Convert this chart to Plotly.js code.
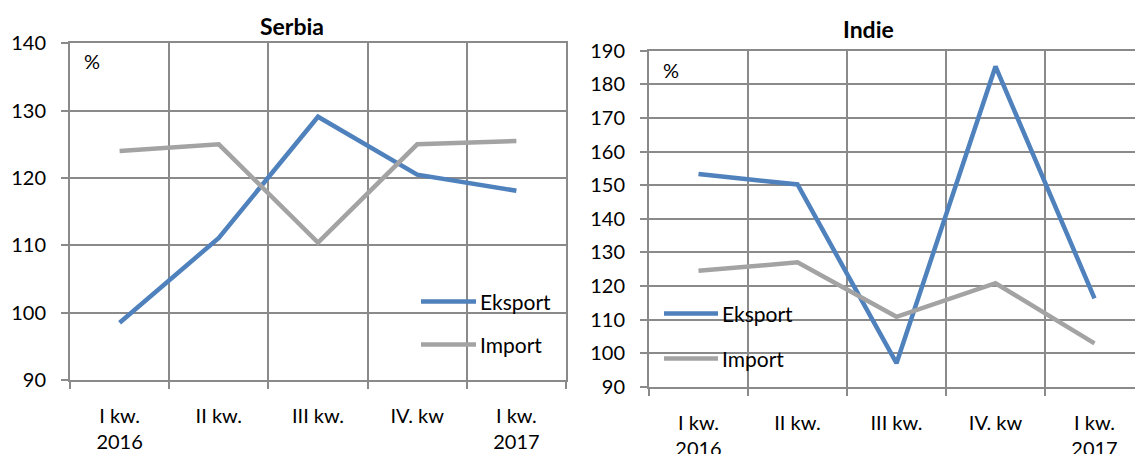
<!DOCTYPE html>
<html>
<head>
<meta charset="utf-8">
<script src="https://cdn.plot.ly/plotly-3.0.1.min.js"></script>
<style>
  html, body { margin: 0; padding: 0; overflow: hidden; background: #fff; }
  #chart { width: 1150px; height: 454px; }
</style>
</head>
<body>
<div id="chart"></div>
<script>
// Quarterly dynamics of trade (%), Serbia and India
const quarters = ["I kw.<br>2016", "II kw.", "III kw.", "IV. kw", "I kw.<br>2017"];
const seriesNames = ["Eksport", "Import"];
const panelTitles = ["Serbia", "Indie"];
const unitLabel = "%";

const serbiaExport = [98.5, 111.1, 129.1, 120.5, 118.1];
const serbiaImport = [124.0, 125.0, 110.4, 125.0, 125.5];
const indiaExport = [153.3, 150.2, 97.0, 185.3, 116.3];
const indiaImport = [124.5, 127.0, 110.8, 120.8, 102.9];

const serbiaRange = [90, 140];
const indiaRange = [90, 190];

const W = 1150, H = 454;
const px = x => x / W;
const py = y => 1 - y / H;

const BLUE = "#4f81bd";
const GREY = "#a3a3a3";
const GRID = "#8a8a8a";
const FONT = "Lato, 'Open Sans', sans-serif";

function line(x, y, name, color, xa, ya) {
  return {
    type: "scatter", mode: "lines", x: x, y: y, name: name,
    xaxis: xa, yaxis: ya, showlegend: false, hoverinfo: "skip",
    line: { color: color, width: 4.5 }
  };
}

const data = [
  line(quarters, serbiaExport, seriesNames[0], BLUE, "x", "y"),
  line(quarters, serbiaImport, seriesNames[1], GREY, "x", "y"),
  line(quarters, indiaExport, seriesNames[0], BLUE, "x2", "y2"),
  line(quarters, indiaImport, seriesNames[1], GREY, "x2", "y2")
];

function xAxis(domain, anchor) {
  return {
    domain: domain, anchor: anchor, type: "category",
    range: [-0.5, 4.5], fixedrange: true,
    tickson: "boundaries", ticks: "outside", ticklen: 7, tickwidth: 2, tickcolor: GRID,
    showgrid: true, gridcolor: GRID, gridwidth: 2,
    showline: true, linecolor: GRID, linewidth: 2, mirror: true,
    tickfont: { family: FONT, size: 20, color: "#000" },
    ticklabelstandoff: 17, automargin: false
  };
}
function yAxis(domain, anchor, range) {
  return {
    domain: domain, anchor: anchor, range: range, dtick: 10, fixedrange: true,
    ticks: "outside", ticklen: 7, tickwidth: 2, tickcolor: GRID,
    showgrid: true, gridcolor: GRID, gridwidth: 2, zeroline: false,
    showline: true, linecolor: GRID, linewidth: 2, mirror: true,
    tickfont: { family: FONT, size: 20, color: "#000" },
    ticklabelstandoff: 11, automargin: false
  };
}

// Hand-drawn legends: a thick line sample followed by the series name
function legendItems(x0, x1, yTop, yBottom) {
  const shapes = [], notes = [];
  [[yTop, BLUE, seriesNames[0]], [yBottom, GREY, seriesNames[1]]].forEach(([y, c, t]) => {
    shapes.push({ type: "line", xref: "paper", yref: "paper",
      x0: px(x0), x1: px(x1), y0: py(y), y1: py(y),
      line: { color: c, width: 4.5 } });
    notes.push({ xref: "paper", yref: "paper", x: px(x1 + 2), y: py(y),
      xanchor: "left", yanchor: "middle", showarrow: false, text: t,
      font: { family: FONT, size: 21, color: "#000" } });
  });
  return { shapes, notes };
}

const legS = legendItems(421, 476, 301.5, 344.5);
const legI = legendItems(664, 718, 313.5, 358.5);

const annotations = [
  { xref: "paper", yref: "paper", x: px(292), y: py(26), xanchor: "center", yanchor: "middle",
    showarrow: false, text: "<b>" + panelTitles[0] + "</b>", font: { family: FONT, size: 23, color: "#000" } },
  { xref: "paper", yref: "paper", x: px(868), y: py(29), xanchor: "center", yanchor: "middle",
    showarrow: false, text: "<b>" + panelTitles[1] + "</b>", font: { family: FONT, size: 23, color: "#000" } },
  { xref: "paper", yref: "paper", x: px(92), y: py(61), xanchor: "center", yanchor: "middle",
    showarrow: false, text: unitLabel, font: { family: FONT, size: 20, color: "#000" } },
  { xref: "paper", yref: "paper", x: px(671), y: py(70), xanchor: "center", yanchor: "middle",
    showarrow: false, text: unitLabel, font: { family: FONT, size: 20, color: "#000" } }
].concat(legS.notes, legI.notes);

const layout = {
  width: W, height: H,
  margin: { l: 0, r: 0, t: 0, b: 0, pad: 0 },
  paper_bgcolor: "#fff", plot_bgcolor: "#fff",
  showlegend: false,
  xaxis: xAxis([px(70), px(566)], "y"),
  yaxis: yAxis([py(380), py(43.3)], "x", serbiaRange),
  xaxis2: xAxis([px(649), px(1144)], "y2"),
  yaxis2: yAxis([py(386.7), py(50.7)], "x2", indiaRange),
  shapes: legS.shapes.concat(legI.shapes),
  annotations: annotations
};

Plotly.newPlot("chart", data, layout, { displayModeBar: false, staticPlot: true });
</script>
</body>
</html>
